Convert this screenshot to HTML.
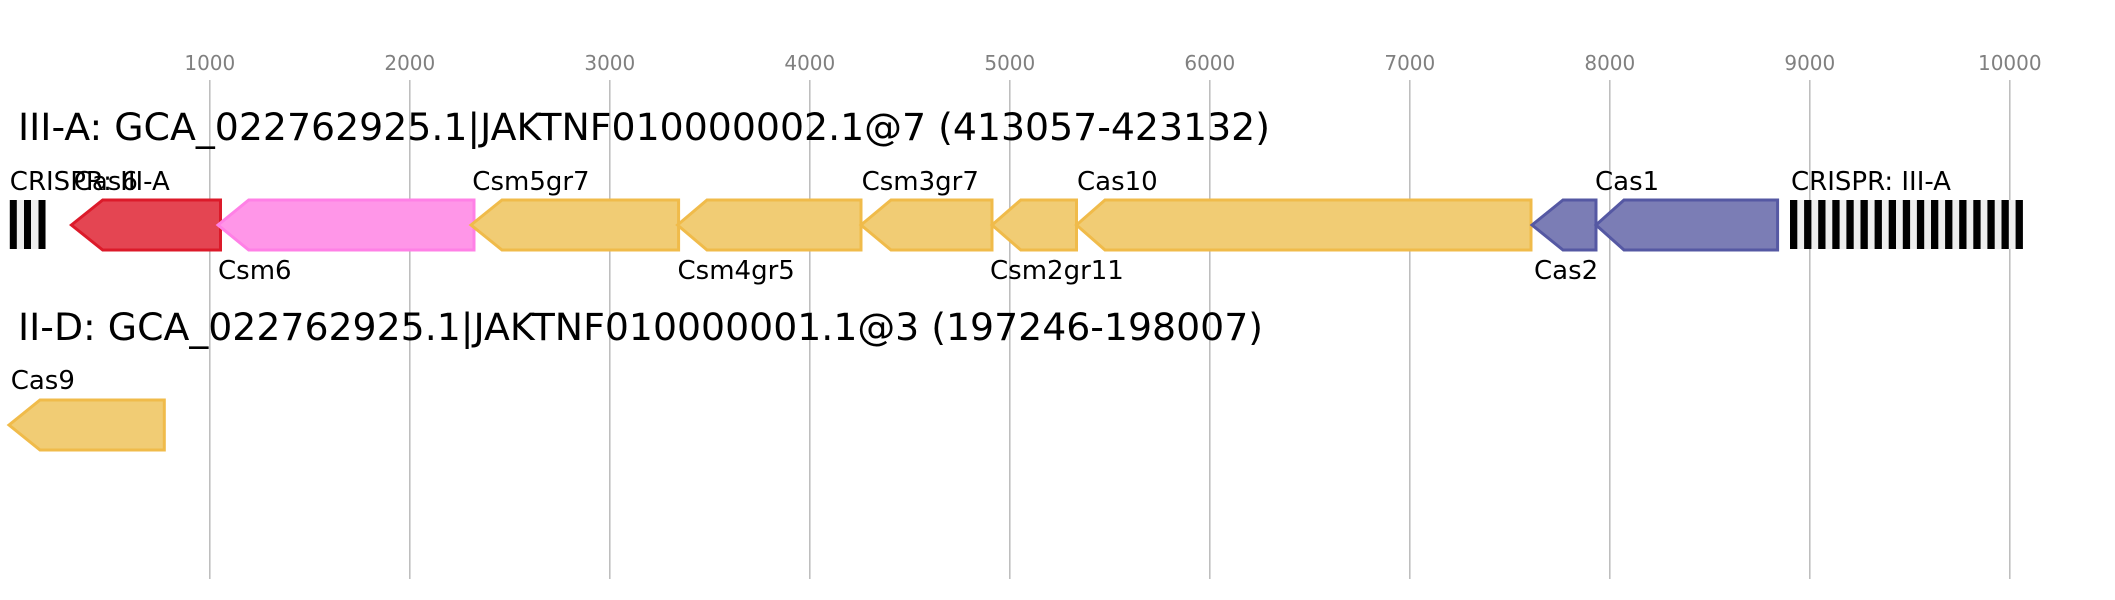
<!DOCTYPE html>
<html><head><meta charset="utf-8"><style>
html,body{margin:0;padding:0;background:#fff;}
svg{display:block;}
text{font-family:"DejaVu Sans","Liberation Sans",sans-serif;}
</style></head><body>
<svg width="2115" height="600" viewBox="0 0 2115 600" xmlns="http://www.w3.org/2000/svg">
<rect width="2115" height="600" fill="#fff"/>
<g stroke="#bbb" stroke-width="1.5">
<line x1="209.8" y1="80" x2="209.8" y2="579"/>
<line x1="409.8" y1="80" x2="409.8" y2="579"/>
<line x1="609.8" y1="80" x2="609.8" y2="579"/>
<line x1="809.8" y1="80" x2="809.8" y2="579"/>
<line x1="1009.8" y1="80" x2="1009.8" y2="579"/>
<line x1="1209.8" y1="80" x2="1209.8" y2="579"/>
<line x1="1409.8" y1="80" x2="1409.8" y2="579"/>
<line x1="1609.8" y1="80" x2="1609.8" y2="579"/>
<line x1="1809.8" y1="80" x2="1809.8" y2="579"/>
<line x1="2009.8" y1="80" x2="2009.8" y2="579"/>
</g>
<g fill="#808080" font-size="20" text-anchor="middle">
<text x="209.8" y="70">1000</text>
<text x="409.8" y="70">2000</text>
<text x="609.8" y="70">3000</text>
<text x="809.8" y="70">4000</text>
<text x="1009.8" y="70">5000</text>
<text x="1209.8" y="70">6000</text>
<text x="1409.8" y="70">7000</text>
<text x="1609.8" y="70">8000</text>
<text x="1809.8" y="70">9000</text>
<text x="2009.8" y="70">10000</text>
</g>
<text x="18" y="140" font-size="37.5" fill="#000" textLength="1252" lengthAdjust="spacingAndGlyphs">III-A: GCA_022762925.1|JAKTNF010000002.1@7 (413057-423132)</text>
<text x="18" y="340" font-size="37.5" fill="#000" textLength="1245" lengthAdjust="spacingAndGlyphs">II-D: GCA_022762925.1|JAKTNF010000001.1@3 (197246-198007)</text>

<!-- left CRISPR -->
<rect x="9.8" y="200" width="36" height="49" fill="#eee"/>
<g fill="#000">
<rect x="9.8" y="200" width="7" height="49"/>
<rect x="24" y="200" width="7" height="49"/>
<rect x="38.5" y="200" width="7" height="49"/>
</g>
<!-- right CRISPR -->
<rect x="1790" y="200" width="233" height="49" fill="#eee"/>
<g fill="#000">
<rect x="1790" y="200" width="7.3" height="49"/><rect x="1804.1" y="200" width="7.3" height="49"/><rect x="1818.2" y="200" width="7.3" height="49"/><rect x="1832.3" y="200" width="7.3" height="49"/><rect x="1846.4" y="200" width="7.3" height="49"/><rect x="1860.5" y="200" width="7.3" height="49"/><rect x="1874.6" y="200" width="7.3" height="49"/><rect x="1888.7" y="200" width="7.3" height="49"/><rect x="1902.8" y="200" width="7.3" height="49"/><rect x="1916.9" y="200" width="7.3" height="49"/><rect x="1931" y="200" width="7.3" height="49"/><rect x="1945.1" y="200" width="7.3" height="49"/><rect x="1959.2" y="200" width="7.3" height="49"/><rect x="1973.3" y="200" width="7.3" height="49"/><rect x="1987.4" y="200" width="7.3" height="49"/><rect x="2001.5" y="200" width="7.3" height="49"/><rect x="2015.6" y="200" width="7.3" height="49"/>
</g>

<g stroke-width="3" stroke-linejoin="miter">
<polygon points="71.4,225 102.7,200 220.5,200 220.5,250 102.7,250" fill="#e44552" stroke="#dc1a2a"/>
<polygon points="218,225 248.7,200 474,200 474,250 248.7,250" fill="#ff96e8" stroke="#ff80e6"/>
<polygon points="471,225 502,200 678.6,200 678.6,250 502,250" fill="#f1cc74" stroke="#f0bb4a"/>
<polygon points="677.5,225 707,200 861,200 861,250 707,250" fill="#f1cc74" stroke="#f0bb4a"/>
<polygon points="861,225 891,200 992,200 992,250 891,250" fill="#f1cc74" stroke="#f0bb4a"/>
<polygon points="992,225 1020.8,200 1076.5,200 1076.5,250 1020.8,250" fill="#f1cc74" stroke="#f0bb4a"/>
<polygon points="1076.5,225 1105,200 1531,200 1531,250 1105,250" fill="#f1cc74" stroke="#f0bb4a"/>
<polygon points="1532,225 1563,200 1596,200 1596,250 1563,250" fill="#7b7db5" stroke="#5558a3"/>
<polygon points="1596,225 1624,200 1777.6,200 1777.6,250 1624,250" fill="#7b7db5" stroke="#5558a3"/>
<polygon points="9,425 40,400 164.3,400 164.3,450 40,450" fill="#f1cc74" stroke="#f0bb4a"/>
</g>

<g font-size="26" fill="#000">
<text x="9.8" y="190">CRISPR: III-A</text>
<text x="73.7" y="190">Cas6</text>
<text x="472.3" y="190">Csm5gr7</text>
<text x="861.6" y="190">Csm3gr7</text>
<text x="1077" y="190">Cas10</text>
<text x="1595" y="190">Cas1</text>
<text x="1791" y="190">CRISPR: III-A</text>
<text x="218" y="279">Csm6</text>
<text x="677.5" y="279">Csm4gr5</text>
<text x="990" y="279">Csm2gr11</text>
<text x="1534" y="279">Cas2</text>
<text x="10.7" y="389">Cas9</text>
</g>
</svg>
</body></html>
